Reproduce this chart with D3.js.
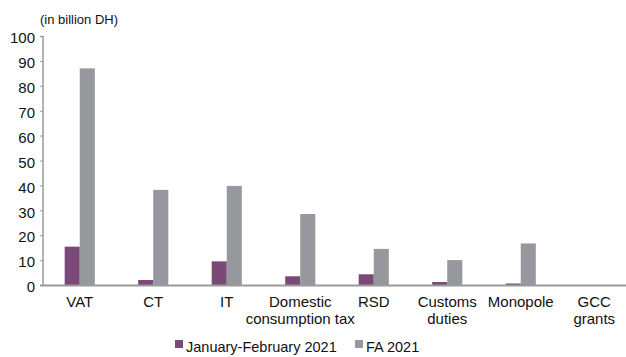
<!DOCTYPE html>
<html>
<head>
<meta charset="utf-8">
<script src="https://cdn.jsdelivr.net/npm/d3@7"></script>
<style>
  html, body { margin: 0; padding: 0; background: #fff; }
  svg { display: block; }
  text { font-family: "Liberation Sans Narrow", "Arial Narrow", "Liberation Sans", sans-serif; fill: #111; }
</style>
</head>
<body>
<script>
// Revenue items (in billion DH)
const categories = [["VAT"], ["CT"], ["IT"], ["Domestic", "consumption tax"], ["RSD"], ["Customs", "duties"], ["Monopole"], ["GCC", "grants"]];
const seriesNames = ["January-February 2021", "FA 2021"];
const janFeb2021 = [15.4, 2.0, 9.5, 3.5, 4.3, 1.2, 0.6, 0];
const fa2021 = [87.0, 38.2, 39.8, 28.5, 14.5, 10.0, 16.7, 0];
const yTicks = [0, 10, 20, 30, 40, 50, 60, 70, 80, 90, 100];
const colors = ["#7b4978", "#96989d"];

const W = 626, H = 357;
const svg = d3.select("body").append("svg").attr("width", W).attr("height", H);

const keys = categories.map((c, i) => i);
const x = d3.scaleBand().domain(keys).range([43, 631]).paddingInner(0.59).paddingOuter(0.295);
const x1 = d3.scaleBand().domain([0, 1]).range([0, x.bandwidth()]);
const y = d3.scaleLinear().domain([0, 100]).range([285, 36]);

// unit label
svg.append("text").attr("x", 40).attr("y", 24).style("font-size", "13px").text("(in billion DH)");

// y axis
const yAxis = svg.append("g").attr("transform", "translate(43,0)")
  .call(d3.axisLeft(y).tickValues(yTicks).tickSize(3).tickPadding(5));
yAxis.select(".domain").attr("stroke", "#9a9a9a").attr("stroke-width", 1.5).attr("d", "M-3,36.5H0V285");
yAxis.selectAll(".tick line").attr("stroke", "#9a9a9a");
yAxis.selectAll(".tick text").style("font-size", "15px").style("font-family", "inherit").attr("fill", "#111").attr("dy", "0.45em");

// bars
const series = [janFeb2021, fa2021];
series.forEach((vals, s) => {
  svg.append("g").selectAll("rect").data(vals).join("rect")
    .attr("x", (d, i) => x(i) + x1(s))
    .attr("width", x1.bandwidth())
    .attr("y", d => y(d))
    .attr("height", d => y(0) - y(d))
    .attr("fill", colors[s]);
});

// x axis line
svg.append("line").attr("x1", 40).attr("x2", W).attr("y1", 285.5).attr("y2", 285.5)
  .attr("stroke", "#9a9a9a").attr("stroke-width", 2);

// category labels
const lab = svg.append("g").selectAll("text").data(categories).join("text")
  .attr("text-anchor", "middle")
  .style("font-size", "15px")
  .attr("transform", (d, i) => `translate(${x(i) + x.bandwidth() / 2},307)`);
lab.selectAll("tspan").data(d => d).join("tspan")
  .attr("x", 0).attr("dy", (d, j) => j === 0 ? 0 : 17).text(d => d);

// legend
const legendX = [175, 355];
seriesNames.forEach((name, s) => {
  svg.append("rect").attr("x", legendX[s]).attr("y", 340).attr("width", 8).attr("height", 8).attr("fill", colors[s]);
  svg.append("text").attr("x", legendX[s] + 11).attr("y", 352).style("font-size", "14.5px").text(name);
});
</script>
</body>
</html>
